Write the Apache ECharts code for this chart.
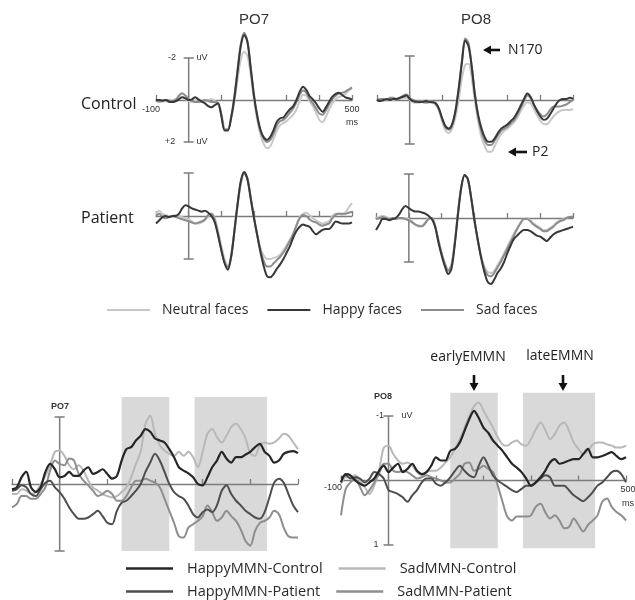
<!DOCTYPE html>
<html><head><meta charset="utf-8">
<script src="https://cdn.jsdelivr.net/npm/echarts@6/dist/echarts.min.js"></script>
<style>html,body{margin:0;padding:0;background:#fff}#c{width:635px;height:600px}</style>
</head><body><div id="c"></div><script>
// time samples (ms)
const times = [-100,-90,-80,-70,-60,-50,-40,-30,-20,-10,0,10,20,30,40,50,60,70,80,90,100,110,120,130,140,150,160,170,180,190,200,210,220,230,240,250,260,270,280,290,300,310,320,330,340,350,360,370,380,390,400,410,420,430,440,450,460,470,480,490,500];

// ---- top: grand averages (uV, negative up) ----
const po7CtrlNeutral = [0.05,0.05,0.08,0.05,0.1,0.05,-0.05,-0.1,-0.15,-0.05, 0.05,0.08,0.05,0.08,0.1,0.05,0,-0.05,0.05,0.2, 0.65,1.35,1.4,0.9,0.1,-1.0,-1.95,-2.3,-2.1,-1.2, 0.0,0.95,1.65,2.1,2.3,2.2,1.85,1.45,1.2,1.1, 1.0,0.85,0.7,0.45,0.05,-0.25,-0.2,0.05,0.3,0.6, 0.95,1.05,0.8,0.45,0.15,-0.05,-0.15,-0.2,-0.3,-0.45, -0.55];
const po7CtrlHappy = [0,0,0.03,0,0.08,0.1,0.06,-0.03,-0.13,-0.08, 0,-0.03,-0.13,-0.03,0.08,0.16,0.29,0.35,0.24,0.16, 0.75,1.45,1.45,0.85,-0.1,-1.4,-2.6,-3.1,-2.75,-1.5, -0.2,0.75,1.43,1.78,1.9,1.75,1.43,1.03,0.87,0.83, 0.63,0.44,0.29,0,-0.4,-0.63,-0.48,-0.19,-0.03,0.16, 0.4,0.56,0.35,0.08,-0.16,-0.29,-0.35,-0.24,-0.13,-0.08, -0.03];
const po7CtrlSad = [0.05,0.08,0.05,0,0.02,0.05,0,-0.2,-0.32,-0.2, -0.05,0.05,0.1,0.1,0.05,0,0.05,0.1,0.1,0.15, 0.7,1.4,1.4,0.8,-0.2,-1.5,-2.7,-3.2,-2.8,-1.55, -0.2,0.8,1.5,1.85,2.0,1.9,1.6,1.2,1.0,0.95, 0.8,0.6,0.4,0.1,-0.25,-0.45,-0.35,-0.05,0.15,0.4, 0.65,0.7,0.5,0.2,-0.05,-0.2,-0.3,-0.35,-0.4,-0.5, -0.6];

const po8CtrlNeutral = [0.05,0,0.05,0,-0.05,0,-0.05,-0.05,-0.1,-0.1, 0,0.1,0.12,0.1,0.05,0,0.05,0.1,0.2,0.5, 1.0,1.4,1.5,1.3,0.8,0,-1.0,-1.6,-1.65,-1.0, 0.1,1.0,1.7,2.1,2.35,2.35,2.1,1.8,1.55,1.4, 1.3,1.15,1.0,0.8,0.5,0.25,0.1,0.15,0.4,0.7, 0.95,1.1,1.1,0.95,0.75,0.6,0.5,0.45,0.45,0.45, 0.4];
const po8CtrlHappy = [0,0.05,0,-0.05,0,-0.05,-0.05,-0.1,-0.15,-0.2, -0.05,0.05,0.08,0.1,0.08,0.05,0.08,0.1,0.15,0.4, 0.85,1.2,1.3,1.1,0.5,-0.5,-1.7,-2.7,-2.45,-1.5, -0.2,0.7,1.3,1.7,1.9,1.9,1.75,1.5,1.3,1.2, 1.1,0.95,0.8,0.55,0.25,-0.05,-0.3,-0.15,0.2,0.5, 0.75,0.9,0.85,0.65,0.4,0.15,0,-0.05,-0.05,-0.1, -0.05];
const po8CtrlSad = [0,-0.05,-0.05,0,-0.1,-0.1,-0.05,-0.1,-0.2,-0.25, -0.1,0,0.05,0.05,0.1,0.12,0.1,0.1,0.2,0.45, 0.9,1.25,1.35,1.15,0.55,-0.5,-1.8,-2.8,-2.6,-1.55, -0.2,0.8,1.45,1.85,2.05,2.05,1.85,1.6,1.4,1.3, 1.2,1.05,0.9,0.65,0.35,0.05,-0.2,-0.1,0.2,0.45, 0.65,0.75,0.65,0.45,0.3,0.3,0.3,0.25,0.2,0.1, 0];

const po7PatNeutral = [-0.1,-0.25,-0.1,-0.05,0,0,-0.05,0,0.05,0.1, 0.15,0.25,0.35,0.35,0.3,0.2,0,-0.1,0.1,0.7, 1.4,2.0,2.3,1.8,0.7,-0.5,-1.5,-1.95,-1.7,-0.85, 0.1,0.9,1.5,1.85,2.0,2.0,1.95,1.9,1.8,1.6, 1.35,1.1,0.8,0.4,0.05,-0.1,-0.15,-0.05,0.1,0.2, 0.3,0.35,0.3,0.25,0,-0.1,-0.1,-0.05,-0.15,-0.4, -0.6];
const po7PatHappy = [0.35,0.2,0.05,0,0.05,0,0,-0.1,-0.35,-0.5, -0.45,-0.35,-0.3,-0.25,-0.2,-0.25,-0.15,0,0.3,0.9, 1.6,2.2,2.5,1.9,0.7,-0.6,-1.65,-2.05,-1.7,-0.8, 0.1,0.9,1.7,2.35,2.8,2.85,2.7,2.45,2.25,2.0, 1.7,1.4,1.0,0.7,0.5,0.4,0.45,0.5,0.7,0.85, 0.75,0.65,0.6,0.6,0.45,0.25,0.3,0.35,0.35,0.35, 0.3];
const po7PatSad = [0,-0.1,0.05,0.1,0.05,0,0.05,0.1,0.15,0.2, 0.25,0.3,0.35,0.3,0.25,0.15,-0.05,-0.1,0.2,0.85, 1.55,2.15,2.4,1.9,0.7,-0.55,-1.6,-2.0,-1.75,-0.85, 0.05,0.9,1.6,2.1,2.35,2.35,2.2,2.05,1.9,1.7, 1.45,1.15,0.85,0.45,0.1,-0.05,0,0.15,0.25,0.3, 0.4,0.45,0.4,0.35,0.1,-0.05,-0.1,-0.1,-0.1,-0.15, -0.2];

const po8PatNeutral = [0,-0.05,-0.1,-0.05,0,0.05,0,0,0.05,0, 0.05,0.15,0.3,0.4,0.35,0.2,0,0,0.35,1.0, 1.6,2.05,2.35,2.1,1.1,-0.3,-1.45,-1.95,-1.75,-0.9, 0.15,1.0,1.7,2.2,2.45,2.5,2.4,2.15,1.9,1.6, 1.3,1.0,0.7,0.45,0.2,0.05,0,0.1,0.25,0.35, 0.45,0.55,0.55,0.45,0.35,0.2,0.1,0.05,0,-0.05, -0.1];
const po8PatHappy = [0.55,0.3,0.05,0.05,0.1,0.05,0,-0.15,-0.4,-0.55, -0.45,-0.35,-0.3,-0.3,-0.25,-0.2,-0.1,0.05,0.4,1.1, 1.7,2.2,2.55,2.3,1.2,-0.2,-1.4,-1.95,-1.75,-0.9, 0.1,1.0,1.8,2.45,2.9,3.0,2.8,2.5,2.3,2.0, 1.6,1.25,0.95,0.8,0.65,0.55,0.55,0.6,0.7,0.8, 0.85,0.95,1.05,0.9,0.75,0.65,0.6,0.55,0.5,0.45, 0.4];
const po8PatSad = [0.05,0,-0.05,0,0.05,0,0.05,0,0,0.05, 0.1,0.2,0.3,0.35,0.38,0.25,0.05,0,0.35,1.0, 1.6,2.1,2.4,2.15,1.1,-0.3,-1.45,-1.95,-1.75,-0.9, 0.15,1.0,1.75,2.3,2.6,2.65,2.5,2.25,2.0,1.7, 1.4,1.1,0.8,0.5,0.25,0.05,0.05,0.15,0.3,0.4, 0.5,0.6,0.6,0.5,0.4,0.25,0.15,0.1,0,-0.05, -0.05];

// ---- bottom: MMN difference waves (uV, negative up) ----
const po7HappyCtrl = [0.08,0.05,-0.1,-0.18,0.05,0.12,0.05,-0.18,-0.3,-0.22, -0.1,-0.12,-0.18,-0.12,-0.12,-0.2,-0.25,-0.15,-0.18,-0.22, -0.15,-0.08,-0.12,-0.35,-0.52,-0.55,-0.65,-0.72,-0.82,-0.78, -0.68,-0.65,-0.62,-0.52,-0.4,-0.25,-0.2,-0.16,-0.1,0, 0.02,-0.1,-0.25,-0.35,-0.48,-0.38,-0.32,-0.4,-0.4,-0.44, -0.48,-0.55,-0.6,-0.48,-0.42,-0.32,-0.35,-0.45,-0.48,-0.49, -0.46];
const po7HappyPat = [0.1,0.08,0.02,0.05,0.15,0.18,0.08,-0.02,-0.05,0.05, 0.12,0.22,0.35,0.45,0.52,0.52,0.5,0.45,0.4,0.48, 0.58,0.6,0.4,0.28,0.25,0.18,0.1,0,-0.18,-0.32, -0.45,-0.35,-0.18,0,0.12,0.18,0.22,0.32,0.45,0.5, 0.42,0.38,0.42,0.32,0.1,0.02,0.15,0.25,0.32,0.4, 0.45,0.5,0.52,0.42,0.2,-0.02,-0.08,-0.02,0.15,0.32, 0.42];
const po7SadCtrl = [0.15,0.15,0.08,0.1,0.15,0.12,0,-0.12,-0.28,-0.48, -0.5,-0.42,-0.28,-0.22,-0.28,-0.2,-0.05,0.05,0.1,0.15, 0.18,0.2,0.18,0.12,0.05,-0.1,-0.3,-0.48,-0.9,-1.02, -0.75,-0.58,-0.5,-0.45,-0.42,-0.48,-0.42,-0.48,-0.4,-0.25, -0.48,-0.75,-0.82,-0.7,-0.62,-0.72,-0.85,-0.9,-0.82,-0.68, -0.45,-0.42,-0.58,-0.62,-0.6,-0.62,-0.68,-0.75,-0.72,-0.62, -0.52];
const po7SadPat = [0.35,0.3,0.18,0.18,0.22,0.22,0.15,0.05,-0.2,-0.35, -0.3,-0.28,-0.38,-0.35,-0.15,-0.05,0.02,0.1,0.18,0.15, 0.1,0.15,0.25,0.25,0.18,0.05,-0.05,-0.05,-0.08,-0.05, -0.02,0.05,0.22,0.4,0.58,0.78,0.8,0.65,0.6,0.55, 0.48,0.32,0.42,0.55,0.5,0.4,0.48,0.55,0.68,0.85, 0.92,0.7,0.58,0.55,0.5,0.4,0.45,0.65,0.78,0.8, 0.8];

const po8HappyCtrl = [0.03,-0.1,-0.08,0,0.05,0.08,0.03,-0.03,-0.15,-0.23, -0.13,-0.2,-0.26,-0.13,-0.18,-0.26,-0.15,-0.1,-0.13,-0.23, -0.36,-0.31,-0.31,-0.46,-0.49,-0.59,-0.77,-0.95,-1.08,-0.97, -0.82,-0.74,-0.62,-0.54,-0.46,-0.36,-0.26,-0.2,-0.13,-0.03, 0.08,0.03,-0.05,-0.15,-0.28,-0.33,-0.26,-0.28,-0.31,-0.33, -0.33,-0.41,-0.49,-0.36,-0.36,-0.38,-0.41,-0.44,-0.38,-0.33, -0.36];
const po8HappyPat = [-0.03,-0.08,-0.03,-0.05,-0.03,0.03,-0.03,-0.13,-0.1,-0.03, 0.15,0.18,0.21,0.26,0.33,0.23,0.15,0.03,-0.03,-0.03, 0.05,0.08,0.03,-0.05,-0.15,-0.23,-0.15,-0.08,-0.05,-0.23, -0.36,-0.23,-0.08,0,0.05,0.1,0.15,0.18,0.13,0.08, 0.08,0.03,-0.03,-0.08,-0.05,0.08,0.08,0.08,0.15,0.23, 0.28,0.32,0.26,0.18,0.08,0.03,-0.05,-0.13,-0.15,-0.1, 0.03];
const po8SadCtrl = [0.05,-0.05,-0.05,-0.08,0,0.1,0.21,0.08,-0.15,-0.51, -0.54,-0.41,-0.31,-0.26,-0.28,-0.23,-0.13,-0.08,-0.13,-0.15, -0.15,-0.2,-0.28,-0.36,-0.49,-0.64,-0.82,-1.0,-1.15,-1.21, -1.08,-0.95,-0.82,-0.67,-0.56,-0.54,-0.59,-0.62,-0.56,-0.54, -0.64,-0.79,-0.9,-0.79,-0.64,-0.72,-0.85,-0.9,-0.77,-0.59, -0.49,-0.41,-0.46,-0.56,-0.59,-0.59,-0.56,-0.54,-0.51,-0.51, -0.54];
const po8SadPat = [0.54,0.13,0.03,-0.03,0.1,0.23,0.15,0.03,-0.1,-0.26, -0.26,-0.15,-0.13,-0.15,-0.13,-0.08,-0.03,-0.05,-0.08,-0.05, -0.03,0,0.03,0.03,-0.03,-0.1,-0.26,-0.28,-0.15,-0.18, -0.23,-0.18,-0.13,0.08,0.33,0.56,0.62,0.56,0.56,0.56, 0.54,0.41,0.36,0.49,0.59,0.54,0.62,0.74,0.72,0.59, 0.69,0.79,0.69,0.62,0.54,0.33,0.28,0.41,0.49,0.54, 0.62];

// EMMN analysis windows (ms)
const emmnWindows = [[130, 230], [283, 435]];
const faceNames = ['Neutral faces', 'Happy faces', 'Sad faces'];
const mmnNames = ['HappyMMN-Control', 'SadMMN-Control', 'HappyMMN-Patient', 'SadMMN-Patient'];

// ---------------- layout / styling ----------------
const grids = [
  {left:156, top:58, width:196, height:84},
  {left:377, top:56, width:196, height:88},
  {left:156, top:173, width:196, height:86},
  {left:376, top:174, width:197, height:88},
  {left:12, top:417, width:286, height:134},
  {left:341, top:416, width:285, height:129}
];
const yRanges = [[-2,2],[-2,2],[-2,2],[-2,2],[-1,1],[-1,1]];
const axisGray = '#7c7c7c';
const faceColors = {'Neutral faces':'#c8c8c8','Happy faces':'#383838','Sad faces':'#8c8c8c'};
const mmnColors = {'HappyMMN-Control':'#262626','SadMMN-Control':'#b8b8b8','HappyMMN-Patient':'#4e4e4e','SadMMN-Patient':'#8e8e8e'};

function lineSeries(name, gi, vals, color, width, z) {
  return {type:'line', name, xAxisIndex:gi, yAxisIndex:gi,
    data: times.map((t,i)=>[t, vals[i]]), symbol:'none', showSymbol:false,
    smooth:0.3, clip:false, silent:true, z:z||3,
    lineStyle:{color, width}, itemStyle:{color}};
}
function scaleBar(gi) {
  const r = yRanges[gi];
  return {type:'custom', xAxisIndex:gi, yAxisIndex:gi, clip:false, silent:true, z:2,
    data:[[0, r[0], r[1]]],
    renderItem:(p, api) => {
      const a = api.coord([api.value(0), api.value(1)]);
      const b = api.coord([api.value(0), api.value(2)]);
      const st = {stroke:axisGray, lineWidth:1.5};
      return {type:'group', children:[
        {type:'line', shape:{x1:a[0],y1:a[1],x2:b[0],y2:b[1]}, style:st},
        {type:'line', shape:{x1:a[0]-5,y1:a[1],x2:a[0]+5,y2:a[1]}, style:st},
        {type:'line', shape:{x1:b[0]-5,y1:b[1],x2:b[0]+5,y2:b[1]}, style:st}
      ]};
    }};
}
function shading(gi, yTop, yBot) {
  return {type:'custom', xAxisIndex:gi, yAxisIndex:gi, clip:false, silent:true, z:0,
    data: emmnWindows.map(w => [w[0], w[1]]),
    renderItem:(p, api) => {
      const a = api.coord([api.value(0), yTop]);
      const b = api.coord([api.value(1), yBot]);
      return {type:'rect', shape:{x:a[0], y:a[1], width:b[0]-a[0], height:b[1]-a[1]}, style:{fill:'#d9d9d9'}};
    }};
}

const series = [];
[[po7CtrlNeutral,po7CtrlHappy,po7CtrlSad],[po8CtrlNeutral,po8CtrlHappy,po8CtrlSad],
 [po7PatNeutral,po7PatHappy,po7PatSad],[po8PatNeutral,po8PatHappy,po8PatSad]].forEach((set, gi) => {
  series.push(scaleBar(gi));
  series.push(lineSeries('Neutral faces', gi, set[0], faceColors['Neutral faces'], 2, 3));
  series.push(lineSeries('Sad faces', gi, set[2], faceColors['Sad faces'], 2, 4));
  series.push(lineSeries('Happy faces', gi, set[1], faceColors['Happy faces'], 2, 5));
});
series.push(shading(4, -1.3, 1.0));
series.push(shading(5, -1.36, 1.05));
[[po7HappyCtrl,po7SadCtrl,po7HappyPat,po7SadPat],[po8HappyCtrl,po8SadCtrl,po8HappyPat,po8SadPat]].forEach((set, k) => {
  const gi = 4 + k;
  series.push(scaleBar(gi));
  series.push(lineSeries('SadMMN-Control', gi, set[1], mmnColors['SadMMN-Control'], 2, 3));
  series.push(lineSeries('SadMMN-Patient', gi, set[3], mmnColors['SadMMN-Patient'], 2, 4));
  series.push(lineSeries('HappyMMN-Patient', gi, set[2], mmnColors['HappyMMN-Patient'], 2, 5));
  series.push(lineSeries('HappyMMN-Control', gi, set[0], mmnColors['HappyMMN-Control'], 2.2, 6));
});

const xAxes = grids.map((g,i)=>({gridIndex:i, type:'value', min:-100, max:500, interval:100,
  axisLine:{onZero:true, lineStyle:{color:axisGray, width:1.3}},
  axisTick:{show:true, inside:true, length:5, lineStyle:{color:axisGray, width:1.3}},
  axisLabel:{show:false}, splitLine:{show:false}}));
const yAxes = yRanges.map((r,i)=>({gridIndex:i, type:'value', min:r[0], max:r[1], inverse:true,
  axisLine:{show:false}, axisTick:{show:false}, axisLabel:{show:false}, splitLine:{show:false}}));

const legendBase = {orient:'horizontal', padding:0, selectedMode:false, icon:'rect'};
const legends = [
  Object.assign({}, legendBase, {data:faceNames, left:107, top:303, itemWidth:43, itemHeight:2, itemGap:19,
    textStyle:{fontFamily:'Open Sans', fontSize:14, color:'#2a2a2a', padding:[0,0,0,7]}}),
  Object.assign({}, legendBase, {data:[mmnNames[0], mmnNames[1]], left:126, top:561, itemWidth:47, itemHeight:2.5, itemGap:16,
    textStyle:{fontFamily:'Open Sans', fontSize:14.5, color:'#2a2a2a', padding:[0,0,0,9]}}),
  Object.assign({}, legendBase, {data:[mmnNames[2], mmnNames[3]], left:126, top:584, itemWidth:47, itemHeight:2.5, itemGap:16,
    textStyle:{fontFamily:'Open Sans', fontSize:14.5, color:'#2a2a2a', padding:[0,0,0,9]}})
];

function txt(text, x, y, size, opts) {
  opts = opts || {};
  return {type:'text', x, y, silent:true, z:10, style:{text, fill:opts.fill||'#333',
    font:(opts.weight||'normal')+' '+size+'px '+(opts.family||'"Liberation Sans", Arial, sans-serif'),
    align:opts.align||'center', verticalAlign:'middle'}};
}
function hArrowLeft(xTip, xEnd, y) {
  return {type:'group', silent:true, children:[
    {type:'line', shape:{x1:xTip+5, y1:y, x2:xEnd, y2:y}, style:{stroke:'#111', lineWidth:2.6}},
    {type:'polygon', shape:{points:[[xTip,y],[xTip+8,y-4.5],[xTip+8,y+4.5]]}, style:{fill:'#111'}}
  ]};
}
function vArrowDown(x, yStart, yTip) {
  return {type:'group', silent:true, children:[
    {type:'line', shape:{x1:x, y1:yStart, x2:x, y2:yTip-5}, style:{stroke:'#111', lineWidth:2.6}},
    {type:'polygon', shape:{points:[[x,yTip],[x-4.5,yTip-8],[x+4.5,yTip-8]]}, style:{fill:'#111'}}
  ]};
}
const sans = '"Open Sans", sans-serif';
const graphic = [
  txt('PO7', 254, 20, 15), txt('PO8', 476, 20, 15),
  txt('Control', 81, 104, 16, {align:'left', family:sans, fill:'#222'}),
  txt('Patient', 81, 218, 16, {align:'left', family:sans, fill:'#222'}),
  txt('-2', 172, 58, 9), txt('uV', 202, 58, 9), txt('+2', 170, 142, 9), txt('uV', 202, 142, 9),
  txt('-100', 151, 110, 9), txt('500', 352, 110, 9), txt('ms', 352, 123, 9),
  hArrowLeft(483, 500, 50), txt('N170', 508, 50, 14, {align:'left', family:sans, fill:'#222'}),
  hArrowLeft(508, 527, 152), txt('P2', 532, 152, 14, {align:'left', family:sans, fill:'#222'}),
  txt('PO7', 60, 407, 9, {weight:'bold'}), txt('PO8', 383, 397, 9, {weight:'bold'}),
  txt('-1', 380, 416, 9), txt('uV', 407, 416, 9), txt('1', 376, 545, 9),
  txt('-100', 333, 488, 9), txt('500', 628, 490, 9), txt('ms', 628, 504, 9),
  txt('earlyEMMN', 468, 357, 14, {family:sans, fill:'#222'}),
  txt('lateEMMN', 560, 356, 14, {family:sans, fill:'#222'}),
  vArrowDown(474, 375, 391), vArrowDown(563, 375, 391)
];

const chart = echarts.init(document.getElementById('c'), null, {renderer:'canvas'});
chart.setOption({
  animation:false, backgroundColor:'#fff',
  grid: grids, xAxis: xAxes, yAxis: yAxes, legend: legends, series, graphic
});
</script></body></html>
